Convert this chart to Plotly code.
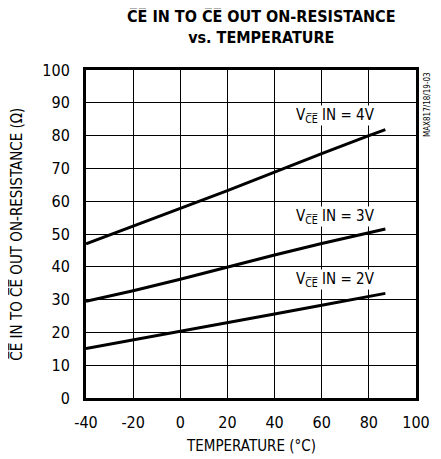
import plotly.graph_objects as go

temps = [-40, -20, 0, 20, 40, 60, 80, 87]
r_4v = [47.0, 52.3, 57.8, 63.2, 68.9, 74.5, 80.0, 81.8]
r_3v = [29.5, 32.7, 36.2, 40.0, 43.6, 47.1, 50.3, 51.5]
r_2v = [15.1, 17.7, 20.2, 23.0, 25.6, 28.3, 30.9, 31.9]

x_ticks = [-40, -20, 0, 20, 40, 60, 80, 100]
x_tick_labels = ["-40", "-20", "0", "20", "40", "60", "80", "100"]
y_ticks = [0, 10, 20, 30, 40, 50, 60, 70, 80, 90, 100]
y_tick_labels = [str(v) for v in y_ticks]

OL = "\u0305"
CE = "C" + OL + "E" + OL

series = [
    (r_4v, "V<sub>" + CE + "</sub> IN = 4V", 66, 86),
    (r_3v, "V<sub>" + CE + "</sub> IN = 3V", 66, 55.3),
    (r_2v, "V<sub>" + CE + "</sub> IN = 2V", 66, 36),
]

FONT = "DejaVu Sans Condensed, Liberation Sans Narrow, sans-serif"

fig = go.Figure()
for ys, label, lx, ly in series:
    fig.add_trace(go.Scatter(x=temps, y=ys, mode="lines",
                             line=dict(color="black", width=3), showlegend=False))
    fig.add_annotation(x=lx, y=ly, text=label, showarrow=False,
                       font=dict(family=FONT, size=15, color="black"),
                       bgcolor="white", borderpad=0)

fig.add_annotation(x=1.035, y=1.0, xref="paper", yref="paper", text="MAX817/18/19-03",
                   textangle=-90, showarrow=False, xanchor="center", yanchor="top",
                   font=dict(family=FONT, size=8, color="black"))

# title
fig.add_annotation(x=0.53, y=1.134, xref="paper", yref="paper",
                   text="<b>" + CE + " IN TO " + CE + " OUT ON-RESISTANCE<br>vs. TEMPERATURE</b>",
                   showarrow=False, xanchor="center", yanchor="middle",
                   font=dict(family=FONT, size=16, color="black"))
# axis titles
fig.add_annotation(x=0.5, y=-0.146, xref="paper", yref="paper", text="TEMPERATURE (°C)",
                   showarrow=False, xanchor="center", yanchor="middle",
                   font=dict(family=FONT, size=15, color="black"))
fig.add_annotation(x=-0.21, y=0.5, xref="paper", yref="paper",
                   text=CE + " IN TO " + CE + " OUT ON-RESISTANCE (Ω)", textangle=-90,
                   showarrow=False, xanchor="center", yanchor="middle",
                   font=dict(family=FONT, size=15, color="black"))

# page body has an 8px margin, so the figure is sized and offset to compensate
fig.update_layout(
    width=425, height=451,
    margin=dict(l=78, r=17, t=62, b=61),
    paper_bgcolor="white", plot_bgcolor="white",
    font=dict(family=FONT, size=16, color="black"),
)
fig.update_xaxes(range=[-40, 100], tickvals=x_ticks, ticktext=x_tick_labels, showgrid=True,
                 gridcolor="black", gridwidth=1.2, showline=True, linecolor="black",
                 linewidth=3, mirror=True, ticks="", zeroline=False, automargin=False,
                 ticklabelstandoff=8, tickfont=dict(size=16))
fig.update_yaxes(range=[0, 100], tickvals=y_ticks, ticktext=y_tick_labels, showgrid=True,
                 gridcolor="black", gridwidth=1.2, showline=True, linecolor="black",
                 linewidth=3, mirror=True, ticks="", zeroline=False, automargin=False,
                 ticklabelstandoff=10, tickfont=dict(size=16))

fig.write_html("out.html")
